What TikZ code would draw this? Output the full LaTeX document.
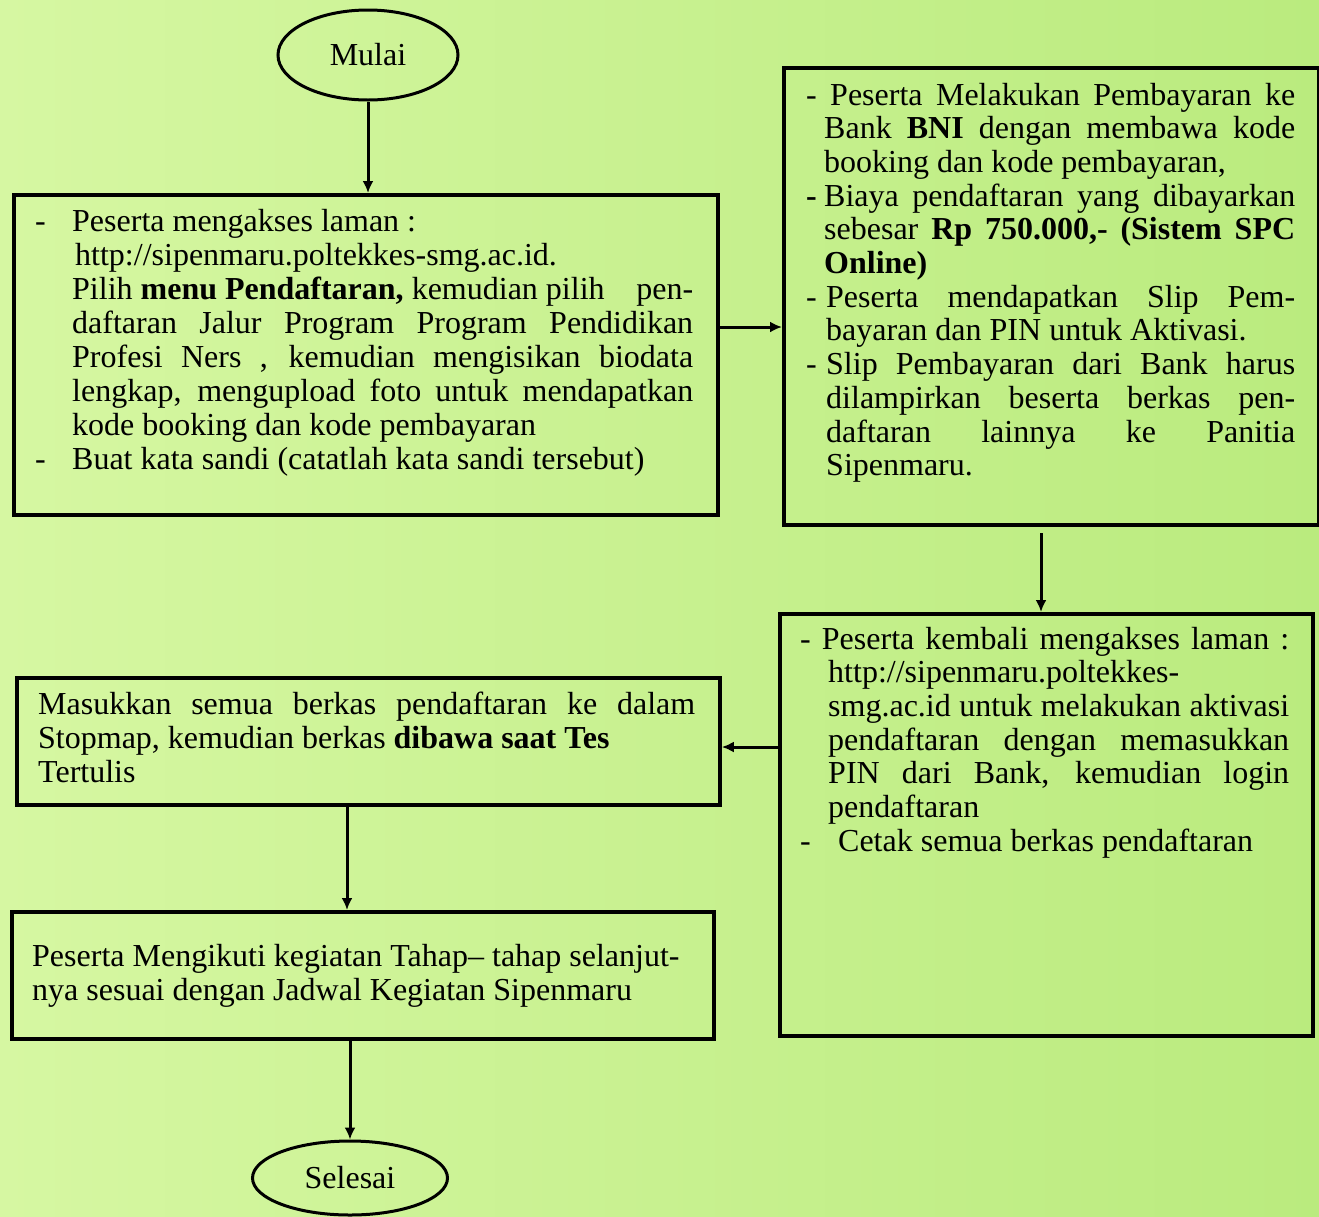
\documentclass[tikz,border=0pt]{standalone}
\usepackage{fontspec}
\setmainfont{Liberation Serif}
\usetikzlibrary{shapes.geometric,arrows.meta}
\definecolor{bgL}{RGB}{214,247,162}
\definecolor{bgR}{RGB}{186,235,126}
\newcommand\J[2]{\makebox[#1pt][s]{#2}}
\begin{document}
\begin{tikzpicture}[x=1pt,y=-1pt,
  box/.style={draw, line width=3.8pt, rectangle, anchor=north west, inner sep=0pt},
  oval/.style={draw, ellipse, line width=3pt, inner sep=0pt, font=\fontsize{32}{34}\selectfont},
  txt/.style={anchor=base west, inner sep=0pt, font=\fontsize{32}{34}\selectfont},
  txtb/.style={anchor=base west, inner sep=0pt, font=\fontsize{32}{33.7}\selectfont},
  arr/.style={line width=3pt, -{Latex[length=12pt,width=11pt]}}]
\useasboundingbox (0,0) rectangle (1319,1216);
\shade[left color=bgL, right color=bgR] (0,0) rectangle (1319,1216);

% shapes
\node[oval, minimum width=180pt, minimum height=90pt] (mulai) at (368,55) {Mulai};
\node[box, minimum width=704pt, minimum height=320pt] (b1) at (12,193) {};
\node[box, minimum width=535pt, minimum height=457pt] (b2) at (782,66) {};
\node[box, minimum width=533pt, minimum height=422pt] (b3) at (778,612) {};
\node[box, minimum width=703pt, minimum height=127pt] (b4) at (15,676) {};
\node[box, minimum width=702pt, minimum height=127pt] (b5) at (10,910) {};
\node[oval, minimum width=195pt, minimum height=74pt] (sel) at (350,1178) {Selesai};

% texts
\node[txt] (t1) at (35,231) {\parbox[t]{700pt}{%
\makebox[37pt][l]{-}Peserta mengakses laman :\\
\hspace*{40pt}http://sipenmaru.poltekkes-smg.ac.id.\\
\hspace*{37pt}\J{621}{Pilih \textbf{menu Pendaftaran,} kemudian pilih \hfill pen-}\\
\hspace*{37pt}\J{621}{daftaran Jalur Program Program Pendidikan}\\
\hspace*{37pt}\J{621}{Profesi Ners , kemudian mengisikan biodata}\\
\hspace*{37pt}\J{621}{lengkap, mengupload foto untuk mendapatkan}\\
\hspace*{37pt}kode booking dan kode pembayaran\\
\makebox[37pt][l]{-}Buat kata sandi (catatlah kata sandi tersebut)}};

\node[txtb] (t2) at (806,105) {\parbox[t]{500pt}{%
\J{489}{- Peserta Melakukan Pembayaran ke}\\
\hspace*{18pt}\J{471}{Bank \textbf{BNI} dengan membawa kode}\\
\hspace*{18pt}booking dan kode pembayaran,\\
\makebox[18pt][l]{\textbf{-}}\J{471}{Biaya pendaftaran yang dibayarkan}\\
\hspace*{18pt}\J{471}{sebesar \textbf{Rp 750.000,- (Sistem SPC}}\\
\hspace*{18pt}\textbf{Online)}\\
\makebox[20pt][l]{-}\J{469}{Peserta mendapatkan Slip Pem-}\\
\hspace*{20pt}bayaran dan PIN untuk Aktivasi.\\
\makebox[20pt][l]{-}\J{469}{Slip Pembayaran dari Bank harus}\\
\hspace*{20pt}\J{469}{dilampirkan beserta berkas pen-}\\
\hspace*{20pt}\J{469}{daftaran lainnya ke Panitia}\\
\hspace*{20pt}Sipenmaru.}};

\node[txtb] (t3) at (800,649) {\parbox[t]{500pt}{%
\J{489}{- Peserta kembali mengakses laman :}\\
\hspace*{28pt}http://sipenmaru.poltekkes-\\
\hspace*{28pt}\J{461}{smg.ac.id untuk melakukan aktivasi}\\
\hspace*{28pt}\J{461}{pendaftaran dengan memasukkan}\\
\hspace*{28pt}\J{461}{PIN dari Bank, kemudian login}\\
\hspace*{28pt}pendaftaran\\
\makebox[38pt][l]{-}Cetak semua berkas pendaftaran}};

\node[txt] (t4) at (38,714) {\parbox[t]{670pt}{%
\J{657}{Masukkan semua berkas pendaftaran ke dalam}\\
Stopmap, kemudian berkas \textbf{dibawa saat Tes}\\
Tertulis}};

\node[txt] (t5) at (32,966) {\parbox[t]{670pt}{%
Peserta Mengikuti kegiatan Tahap– tahap selanjut-\\
nya sesuai dengan Jadwal Kegiatan Sipenmaru}};

% connector helpers
\coordinate (a12) at (716,327);
\coordinate (c23) at (1041,533);
\coordinate (a34) at (778,747);
\coordinate (a45) at (347,803);

% connectors
\draw[arr] (mulai.south) -- (mulai.south |- b1.north);
\draw[arr] (b1.east |- a12) -- (b2.west |- a12);
\draw[arr] (c23) -- (c23 |- b3.north);
\draw[arr] (b3.west |- a34) -- (b4.east |- a34);
\draw[arr] (a45 |- b4.south) -- (a45 |- b5.north);
\draw[arr] (sel.north |- b5.south) -- (sel.north);
\end{tikzpicture}
\end{document}
